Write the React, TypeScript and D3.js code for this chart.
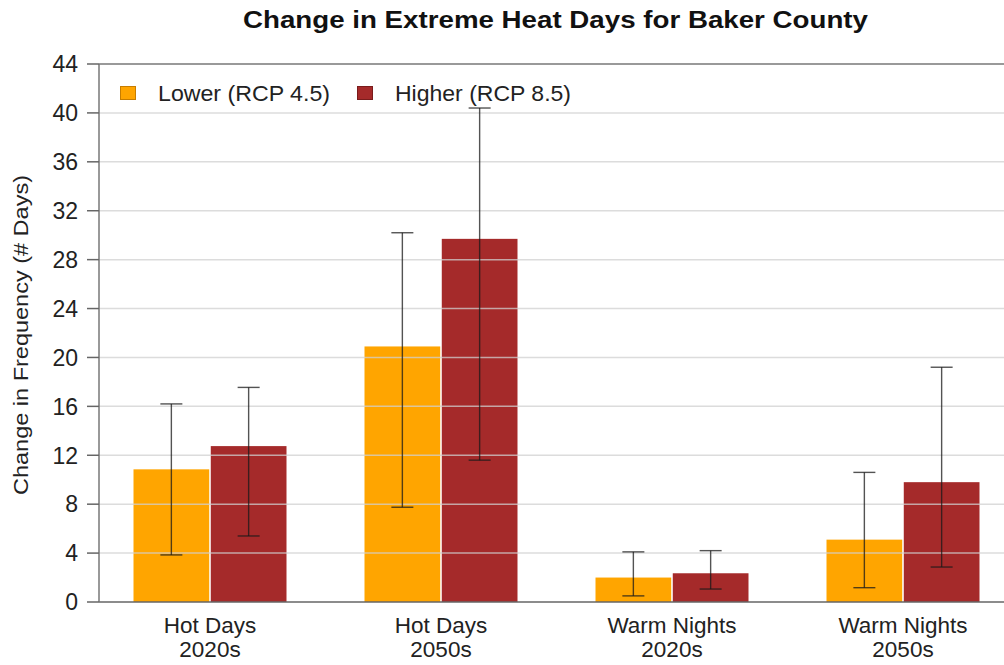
import React from "react";
import * as d3 from "d3";

const categories = ["Hot Days|2020s", "Hot Days|2050s", "Warm Nights|2020s", "Warm Nights|2050s"];
const seriesNames = ["Lower (RCP 4.5)", "Higher (RCP 8.5)"];
const seriesColors = ["#FFA500", "#A52A2A"];
const seriesBorder = ["#c77d00", "#7a1c1c"];
const lowerValues = [10.85, 20.9, 2.0, 5.1];
const lowerErrLow = [3.85, 7.75, 0.5, 1.17];
const lowerErrHigh = [16.2, 30.2, 4.1, 10.6];
const higherValues = [12.75, 29.7, 2.35, 9.8];
const higherErrLow = [5.4, 11.6, 1.06, 2.86];
const higherErrHigh = [17.55, 40.4, 4.2, 19.2];
const yTicks = [0, 4, 8, 12, 16, 20, 24, 28, 32, 36, 40, 44];

const W = 1004, H = 665;
const M = { left: 99, top: 64, bottom: 602 };

export default function App() {
  const step = 231;
  const x0 = d3.scaleBand<string>().domain(categories).range([94.5, 94.5 + step * categories.length]).padding(0);
  const x1 = d3.scaleBand<string>().domain(seriesNames).range([39, 192]).paddingInner(0.02).paddingOuter(0);
  const y = d3.scaleLinear().domain([0, 44]).range([M.bottom, M.top]);
  const series = [
    { name: seriesNames[0], vals: lowerValues, lo: lowerErrLow, hi: lowerErrHigh, color: seriesColors[0] },
    { name: seriesNames[1], vals: higherValues, lo: higherErrLow, hi: higherErrHigh, color: seriesColors[1] },
  ];
  const font = "Liberation Sans, Arial, sans-serif";
  const capW = 22;
  return (
    <svg width={W} height={H} style={{ position: "absolute", left: 0, top: 0, background: "#fff" }} fontFamily={font}>
      <text x={555.5} y={28} textAnchor="middle" fontSize={23} fontWeight="bold" fill="#111"
        textLength={625} lengthAdjust="spacingAndGlyphs">
        Change in Extreme Heat Days for Baker County
      </text>
      {/* bars */}
      {series.map((s) =>
        categories.map((c, i) => (
          <rect key={s.name + c} x={(x0(c) as number) + (x1(s.name) as number)} y={y(s.vals[i])}
            width={x1.bandwidth()} height={y(0) - y(s.vals[i])} fill={s.color} />
        ))
      )}
      {/* gridlines over bars */}
      {yTicks.filter((t) => t > 0 && t < 44).map((t) => (
        <line key={"g" + t} x1={M.left} x2={W} y1={y(t)} y2={y(t)} stroke="#d0d0d0" strokeOpacity={0.75} strokeWidth={1.5} />
      ))}
      <line x1={M.left} x2={W} y1={y(44)} y2={y(44)} stroke="#999" strokeWidth={2} />
      {/* error bars */}
      {series.map((s) =>
        categories.map((c, i) => {
          const cx = (x0(c) as number) + (x1(s.name) as number) + x1.bandwidth() / 2;
          return (
            <g key={"e" + s.name + c} stroke="#1a1a1a" strokeOpacity={0.75} strokeWidth={1.4}>
              <line x1={cx} x2={cx} y1={y(s.lo[i])} y2={y(s.hi[i])} />
              <line x1={cx - capW / 2} x2={cx + capW / 2} y1={y(s.lo[i])} y2={y(s.lo[i])} />
              <line x1={cx - capW / 2} x2={cx + capW / 2} y1={y(s.hi[i])} y2={y(s.hi[i])} />
            </g>
          );
        })
      )}
      {/* axes */}
      <line x1={M.left} x2={W} y1={y(0)} y2={y(0)} stroke="#666" strokeWidth={1.5} />
      <line x1={M.left} x2={M.left} y1={y(44)} y2={y(0)} stroke="#777" strokeWidth={1.5} />
      {yTicks.map((t) => (
        <g key={"t" + t}>
          <line x1={87} x2={M.left} y1={y(t)} y2={y(t)} stroke="#666" strokeWidth={1.5} />
          <text x={78} y={y(t)} dy="0.36em" textAnchor="end" fontSize={23} fill="#222">{t}</text>
        </g>
      ))}
      {categories.map((c) => {
        const cx = (x0(c) as number) + x0.bandwidth() / 2;
        const [a, b] = c.split("|");
        return (
          <text key={"c" + c} x={cx} textAnchor="middle" fontSize={22.5} fill="#222">
            <tspan x={cx} y={633}>{a}</tspan>
            <tspan x={cx} y={657}>{b}</tspan>
          </text>
        );
      })}
      <text transform={`translate(28,335) rotate(-90)`} textAnchor="middle" fontSize={21} fill="#222"
        textLength={320} lengthAdjust="spacingAndGlyphs">
        Change in Frequency (# Days)
      </text>
      {/* legend */}
      {[0, 1].map((k) => {
        const lx = k === 0 ? 120 : 357;
        return (
          <g key={"l" + k}>
            <rect x={lx + 0.5} y={86.5} width={15} height={13} fill={seriesColors[k]} stroke={seriesBorder[k]} strokeWidth={1} />
            <text x={lx + 38} y={101} fontSize={22.5} fill="#222"
              textLength={k === 0 ? 172 : 176} lengthAdjust="spacingAndGlyphs">{seriesNames[k]}</text>
          </g>
        );
      })}
    </svg>
  );
}
